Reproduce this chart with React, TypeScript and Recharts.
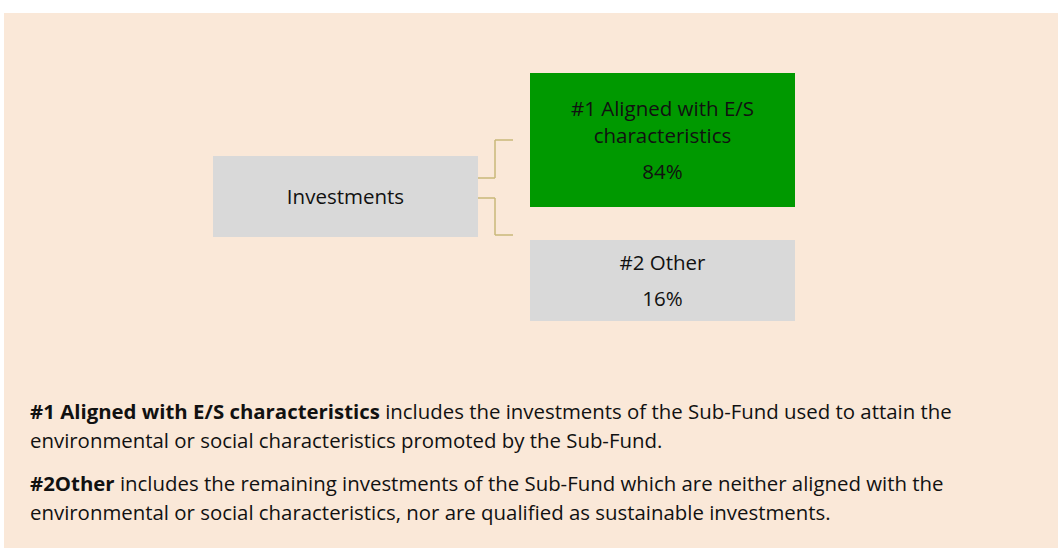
import React from 'react';
import { ScatterChart, Scatter, XAxis, YAxis, ReferenceArea, ReferenceLine } from 'recharts';

// diagram data
const categories = ['Investments', '#1 Aligned with E/S characteristics', '#2 Other'];
const labelLines = [['Investments'], ['#1 Aligned with E/S', 'characteristics'], ['#2 Other']];
const shares: (number | null)[] = [null, 84, 16];

// layout in page pixels (chart uses 1:1 scales)
const W = 1058;
const H = 340;
const boxes = [
  { x1: 213, x2: 478, y1: 156, y2: 237, fill: '#D9D9D9' },
  { x1: 530, x2: 795, y1: 73, y2: 207, fill: '#009900' },
  { x1: 530, x2: 795, y1: 240, y2: 321, fill: '#D9D9D9' },
];
const connectors = [
  [{ x: 478, y: 178 }, { x: 495, y: 178 }],
  [{ x: 495, y: 178 }, { x: 495, y: 140 }],
  [{ x: 495, y: 140 }, { x: 513, y: 140 }],
  [{ x: 478, y: 198 }, { x: 495, y: 198 }],
  [{ x: 495, y: 198 }, { x: 495, y: 235 }],
  [{ x: 495, y: 235 }, { x: 513, y: 235 }],
];

const FONT = '"Open Sans", "Noto Sans", sans-serif';

const NodeLabel = (props: any) => {
  const { cx, cy, payload } = props;
  const lines: string[] = payload.lines;
  const items: { text: string; dy: number }[] = [];
  let off = 0;
  lines.forEach((t, i) => {
    if (i > 0) off += 27;
    items.push({ text: t, dy: off });
  });
  if (payload.value != null) {
    off += 36;
    items.push({ text: `${payload.value}%`, dy: off });
  }
  const start = cy - off / 2 - 1;
  return (
    <g>
      {items.map((it, i) => (
        <text
          key={i}
          x={cx}
          y={start + it.dy}
          textAnchor="middle"
          dominantBaseline="central"
          fontFamily={FONT}
          fontSize={20.5}
          fill="#111"
        >
          {it.text}
        </text>
      ))}
    </g>
  );
};

export default function App() {
  const nodes = categories.map((name, i) => ({
    name,
    x: (boxes[i].x1 + boxes[i].x2) / 2,
    y: (boxes[i].y1 + boxes[i].y2) / 2,
    lines: labelLines[i],
    value: shares[i],
  }));

  const para: React.CSSProperties = {
    position: 'absolute',
    left: 30,
    fontFamily: FONT,
    fontSize: 20.4,
    lineHeight: '29px',
    color: '#111',
    whiteSpace: 'nowrap',
  };

  return (
    <div style={{ position: 'absolute', left: 0, top: 0, width: W, height: 548 }}>
      <div style={{ position: 'absolute', left: 4, top: 13, width: 1054, height: 535, background: '#FAE8D8' }} />
      <div style={{ position: 'absolute', left: 0, top: 0 }}>
        <ScatterChart width={W} height={H} margin={{ top: 0, right: 0, bottom: 0, left: 0 }}>
          <XAxis type="number" dataKey="x" domain={[0, W]} hide />
          <YAxis type="number" dataKey="y" domain={[0, H]} reversed hide />
          {boxes.map((b, i) => (
            <ReferenceArea
              key={categories[i]}
              x1={b.x1}
              x2={b.x2}
              y1={b.y1}
              y2={b.y2}
              fill={b.fill}
              fillOpacity={1}
              stroke="none"
              ifOverflow="visible"
            />
          ))}
          {connectors.map((seg, i) => (
            <ReferenceLine
              key={i}
              segment={seg}
              stroke="#C9B87A"
              strokeWidth={1.5}
              ifOverflow="visible"
            />
          ))}
          <Scatter data={nodes} shape={NodeLabel} isAnimationActive={false} />
        </ScatterChart>
      </div>
      <div style={{ ...para, top: 397 }}>
        <b>#1 Aligned with E/S characteristics</b> includes the investments of the Sub-Fund used to attain the
        <br />
        environmental or social characteristics promoted by the Sub-Fund.
      </div>
      <div style={{ ...para, top: 469 }}>
        <b>#2Other</b> includes the remaining investments of the Sub-Fund which are neither aligned with the
        <br />
        environmental or social characteristics, nor are qualified as sustainable investments.
      </div>
    </div>
  );
}
